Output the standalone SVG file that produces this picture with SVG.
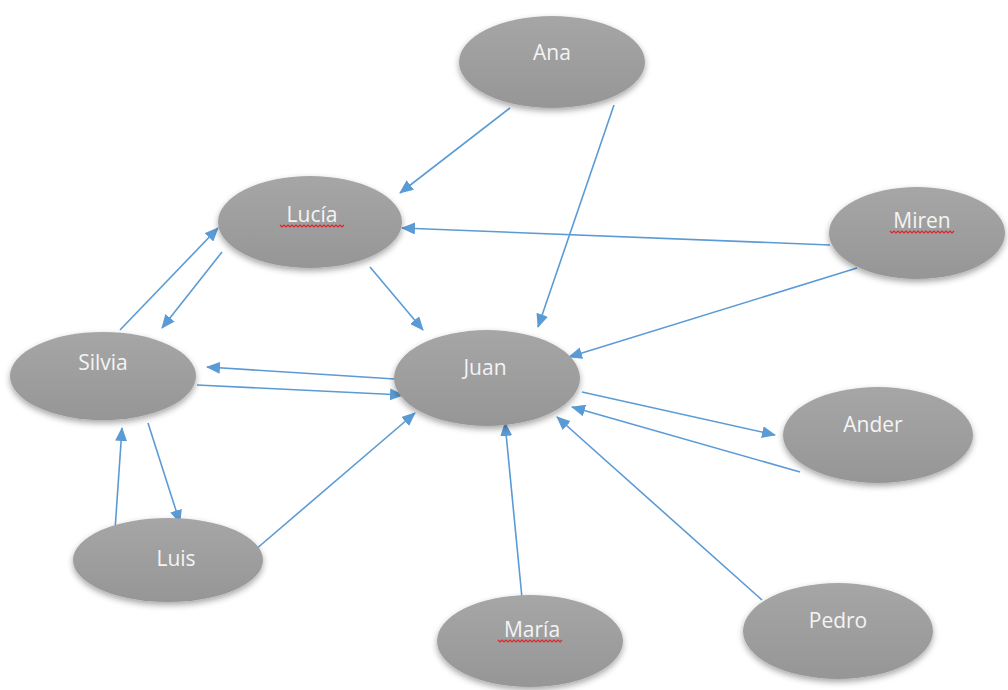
<svg xmlns="http://www.w3.org/2000/svg" width="1008" height="690" viewBox="0 0 1008 690">
<defs>
<linearGradient id="g" x1="0" y1="0" x2="0" y2="1">
<stop offset="0" stop-color="#a6a6a6"/>
<stop offset="1" stop-color="#969696"/>
</linearGradient>
<filter id="sh" x="-20%" y="-20%" width="140%" height="150%">
<feDropShadow dx="0" dy="3" stdDeviation="3" flood-color="#000" flood-opacity="0.35"/>
</filter>
<marker id="ah" markerWidth="14" markerHeight="12" refX="13" refY="6" orient="auto" markerUnits="userSpaceOnUse">
<path d="M0,0 L14,6 L0,12 Z" fill="#5b9bd5"/>
</marker>
<path id="wave" d="M0,0 l2,2 l2,-2 l2,2 l2,-2 l2,2 l2,-2 l2,2 l2,-2 l2,2 l2,-2 l2,2 l2,-2 l2,2 l2,-2 l2,2 l2,-2 l2,2 l2,-2 l2,2 l2,-2 l2,2 l2,-2 l2,2 l2,-2 l2,2 l2,-2 l2,2 l2,-2 l2,2 l2,-2 l2,2 l2,-2" fill="none" stroke="#e0242a" stroke-width="1.2"/>
</defs>
<style>
.n{fill:url(#g);filter:url(#sh)}
.t{font-family:"Open Sans","Noto Sans",sans-serif;font-size:21px;fill:#f4f4f4;text-anchor:middle}
.c line{stroke:#5b9bd5;stroke-width:1.6;marker-end:url(#ah)}
</style>
<rect width="1008" height="690" fill="#fff"/>
<g id="connectors" class="c">
<line x1="510" y1="108" x2="400" y2="193"/>
<line x1="614" y1="105" x2="538" y2="327"/>
<line x1="830" y1="245" x2="402" y2="228"/>
<line x1="857" y1="268" x2="569" y2="357"/>
<line x1="370" y1="267" x2="423" y2="330"/>
<line x1="120" y1="330" x2="218" y2="228"/>
<line x1="222" y1="252" x2="162" y2="328"/>
<line x1="395" y1="379" x2="207" y2="367"/>
<line x1="197" y1="385" x2="403" y2="395"/>
<line x1="148" y1="423" x2="180" y2="523"/>
<line x1="115" y1="530" x2="122" y2="428"/>
<line x1="255" y1="550" x2="415" y2="413"/>
<line x1="582" y1="392" x2="775" y2="435"/>
<line x1="800" y1="472" x2="572" y2="407"/>
<line x1="762" y1="600" x2="557" y2="417"/>
<line x1="522" y1="598" x2="505" y2="423"/>
</g>
<g id="ana"><ellipse class="n" cx="552" cy="62" rx="93" ry="46"/><text class="t" x="552" y="60">Ana</text></g>
<g id="lucia"><ellipse class="n" cx="310" cy="222" rx="92" ry="46"/><text class="t" x="312" y="222">Lucía</text><use href="#wave" x="280" y="225"/></g>
<g id="miren"><ellipse class="n" cx="917" cy="233" rx="88" ry="46"/><text class="t" x="922" y="228">Miren</text><use href="#wave" x="890" y="231"/></g>
<g id="juan"><ellipse class="n" cx="487" cy="378" rx="93" ry="48"/><text class="t" x="485" y="375">Juan</text></g>
<g id="silvia"><ellipse class="n" cx="103" cy="376" rx="93" ry="44"/><text class="t" x="103" y="370">Silvia</text></g>
<g id="luis"><ellipse class="n" cx="168" cy="560" rx="95" ry="42"/><text class="t" x="176" y="566">Luis</text></g>
<g id="ander"><ellipse class="n" cx="878" cy="435" rx="95" ry="48"/><text class="t" x="873" y="432">Ander</text></g>
<g id="pedro"><ellipse class="n" cx="838" cy="631" rx="95" ry="48"/><text class="t" x="838" y="628">Pedro</text></g>
<g id="maria"><ellipse class="n" cx="530" cy="641" rx="93" ry="46"/><text class="t" x="532" y="637">María</text><use href="#wave" x="498" y="640"/></g>
</svg>
